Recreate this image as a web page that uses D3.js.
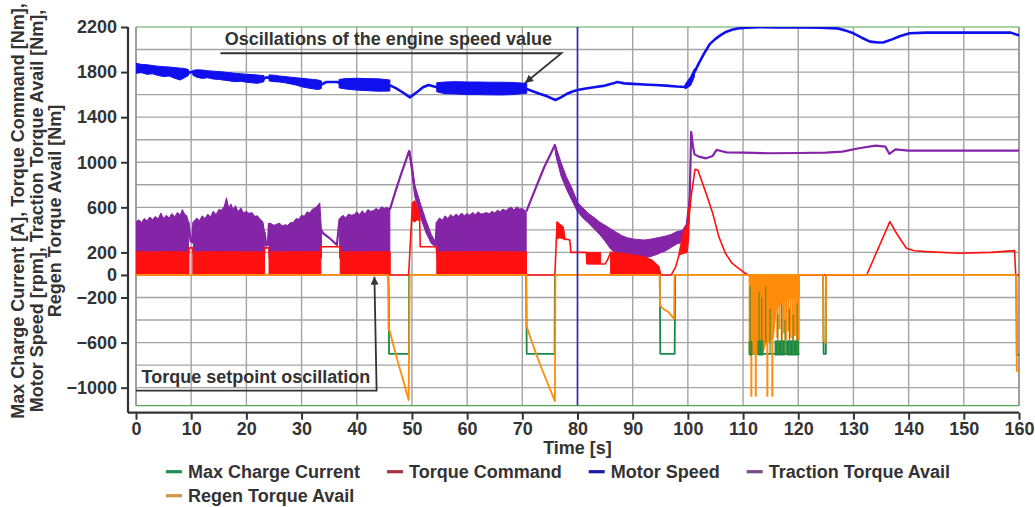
<!DOCTYPE html>
<html><head><meta charset="utf-8">
<script src="https://cdn.jsdelivr.net/npm/d3@7"></script>
<style>
html,body{margin:0;padding:0;background:#fff;}
svg{display:block;}
text{font-family:"Liberation Sans",Arial,Helvetica,sans-serif;font-weight:bold;fill:#333;}
</style></head><body>
<svg id="chart" width="1035" height="507"></svg>
<script>
// ---------------- DATA ----------------
const xTickValues = [0,10,20,30,40,50,60,70,80,90,100,110,120,130,140,150,160];
const yTickValues = [2200,1800,1400,1000,600,200,0,-200,-600,-1000];
const yGridValues = [-1000,-800,-600,-400,-200,0,200,400,600,800,1000,1200,1400,1600,1800,2000];
const xTitle = "Time [s]";
const yTitleLines = ["Max Charge Current [A], Torque Command [Nm],","Motor Speed [rpm], Traction Torque Avail [Nm],","Regen Torque Avail [Nm]"];
const seriesNames = ["Max Charge Current","Torque Command","Motor Speed","Traction Torque Avail","Regen Torque Avail"];
const cursorTimes = [80];

// Motor Speed [rpm]
const speedLine = [[0,1830],[1,1828],[2,1822],[3,1815],[4,1810],[5,1803],[6,1800],[7,1792],[8,1785],[9,1790],[9.6,1795],[10.2,1800],[11,1790],[12,1781],[13,1778],[14,1773],[15,1770],[16,1763],[17,1758],[18,1752],[19,1750],[20,1745],[21,1741],[22,1737],[23.2,1742],[23.6,1753],[24.1,1750],[25,1745],[26,1738],[27,1732],[28,1725],[29,1716],[30,1707],[31,1700],[32,1693],[33,1688],[33.6,1690],[34.5,1712],[36.5,1712],[37.2,1695],[40,1692],[43,1686],[46,1682],[47,1660],[48,1630],[49,1598],[49.6,1576],[50.3,1600],[51,1625],[52,1665],[53,1685],[54.5,1665],[56,1660],[58,1660],[60,1656],[62,1656],[64,1654],[66,1653],[68,1654],[70.8,1650],[72,1628],[73,1610],[74.5,1585],[76,1552],[77,1575],[78,1605],[79,1625],[80,1641],[81.5,1655],[83,1665],[85,1680],[86.5,1700],[87.2,1712],[88.5,1700],[90,1695],[92,1690],[94,1685],[96,1680],[98,1672],[99.5,1668],[100.5,1720],[101.2,1800],[102,1880],[103,1970],[104,2050],[105,2095],[106,2130],[107,2158],[108,2175],[109,2186],[110.6,2194],[113,2198],[116,2196],[120,2196],[124,2194],[127,2188],[128.5,2170],[130,2144],[131.5,2105],[133,2070],[134.5,2062],[135.5,2064],[137,2090],[138.5,2120],[140.2,2144],[143.2,2150],[150,2150],[158.5,2150],[159.8,2129],[160,2125]];
const speedBandA = [[0,1790,1878],[1,1795,1868],[2,1780,1865],[3,1785,1858],[4,1770,1852],[5,1760,1848],[6,1765,1845],[7,1745,1840],[8,1730,1835],[8.8,1750,1832],[9.5,1770,1822]];
const speedBandB = [[10.3,1772,1815],[11,1755,1820],[12,1744,1818],[13,1750,1812],[14,1738,1808],[15,1735,1805],[16,1728,1800],[17,1722,1795],[18,1715,1789],[19,1718,1785],[20,1710,1780],[21,1705,1778],[22,1700,1774],[23.2,1715,1768]];
const speedBandC = [[24.1,1722,1775],[25,1715,1772],[26,1712,1765],[27,1705,1760],[28,1695,1755],[29,1685,1750],[30,1670,1745],[31,1660,1740],[32,1652,1735],[33,1645,1730],[33.6,1655,1720]];
const speedBandD = [[36.8,1660,1735],[38,1650,1742],[40,1640,1745],[42,1635,1742],[44,1630,1740],[46,1632,1730]];
const speedBandE = [[54.5,1625,1705],[56,1608,1712],[58,1605,1715],[60,1600,1712],[62,1600,1712],[64,1598,1710],[66,1597,1710],[68,1600,1708],[70.8,1612,1700]];
const speedBandF = [[99.5,1650,1690],[100.5,1680,1760],[101.2,1760,1830]];

// Traction Torque Avail [Nm]
const purpleFloor = 150;
const purpleTopA = [[0,470],[0.5,490],[1,465],[1.5,500],[2,480],[2.5,515],[3,490],[3.5,520],[4,495],[4.5,550],[5,500],[5.5,530],[6,505],[6.5,545],[7,515],[7.5,555],[8,530],[8.4,580],[8.8,540],[9.2,525],[9.5,470]];
const purpleTopB = [[10.4,470],[11,505],[11.5,480],[12,525],[12.5,500],[13,540],[13.5,515],[14,565],[14.5,535],[15,580],[15.5,575],[16,610],[16.4,685],[16.8,590],[17.2,630],[17.6,580],[18,615],[18.5,560],[19,595],[19.5,550],[20,565],[20.5,545],[21,555],[21.5,520],[22,525],[22.5,495],[23,470],[23.3,380]];
const purpleTopC = [[24.1,460],[24.5,455],[25,440],[25.5,450],[26,460],[26.5,435],[27,445],[27.5,440],[28,465],[28.5,465],[29,500],[29.5,495],[30,530],[30.5,520],[31,560],[31.5,550],[32,585],[32.5,595],[33,620],[33.3,640],[33.6,400]];
const purpleTopD = [[36.9,500],[37.5,530],[38,505],[38.5,540],[39,530],[39.5,535],[40,560],[40.5,535],[41,570],[41.5,540],[42,580],[42.5,565],[43,570],[43.5,590],[44,575],[44.5,605],[45,590],[45.5,600],[46,580]];
const purpleTopE = [[54.5,470],[55,505],[55.5,485],[56,525],[56.5,500],[57,535],[57.5,515],[58,540],[58.5,520],[59,550],[59.5,525],[60,545],[60.5,530],[61,555],[61.5,535],[62,560],[62.5,540],[63,545],[63.5,555],[64,540],[64.5,565],[65,550],[65.5,575],[66,560],[66.5,585],[67,570],[67.5,590],[68,600],[68.5,575],[69,605],[69.5,585],[70,590],[70.5,570],[70.7,550]];
const purpleBandF = [[49.6,1050,1100],[50.5,700,800],[51.5,520,640],[52.5,380,490],[53.5,280,360],[54.3,250,290]];
const purpleBandG = [[76,1080,1150],[77,880,1000],[78,760,870],[79,660,770],[80,560,645],[81,505,595],[82,460,545],[83,410,510],[84,360,470],[85,300,440],[86,230,410],[87,190,380],[88,170,350],[89,150,330],[90,145,320],[91,150,315],[92,155,310],[93,160,315],[94,175,325],[95,195,335],[96,215,345],[97,245,360],[98,275,385],[99,290,395],[99.7,320,450],[100.3,480,700]];
const purpleLine = [
  [9.5,470],[9.9,300],[10.2,290],[10.4,470], null,
  [23.3,380],[23.6,260],[23.9,270],[24.1,460], null,
  [33.6,400],[33.9,370],[35,330],[36.4,266],[36.9,500], null,
  [46,580],[47,740],[48,890],[49,1030],[49.5,1100],[50,960],[50.5,760],[51.5,580],[52.5,440],[53.5,320],[54.3,270],[54.5,470], null,
  [70.7,560],[72,720],[73,840],[74,960],[75,1060],[75.9,1153],[76.5,1000],[77.1,930],[78,820],[79,715],[80,600], null,
  [100.3,620],[100.6,1270],[100.9,1150],[101.2,1070],[102,1050],[103.3,1035],[104.5,1056],[105.2,1110],[106,1100],[107,1088],[110,1085],[115,1080],[120,1082],[125,1085],[128,1094],[131,1124],[134,1147],[135.8,1138],[136.5,1075],[137,1092],[137.6,1115],[140,1103],[160,1103]
];

// Torque Command [Nm]
const redLine = [[0,200],[9.6,200],[9.6,240],[10.3,240],[10.3,200],[23.3,200],[23.3,240],[24.1,240],[24.1,200],[33.5,200],[33.5,250],[37,250],[37,200],[46,200],[46,0],[49.4,0],[50.1,640],[50.6,600],[51.0,560],[51.4,500],[51.5,250],[54.4,250],[54.5,200],[70.7,200],[70.7,0],[75.9,0],[76.3,470],[76.8,440],[77.4,420],[77.7,320],[78.6,310],[78.8,200],[81.6,200],[81.7,100],[85,97],[85.5,140],[86,200],[88,190],[90,175],[92,160],[93.5,130],[94.7,74],[95.1,0],[97,0],[97.8,74],[98.4,177],[99.2,300],[99.9,380],[100.3,550],[100.6,700],[101.3,937],[101.8,931],[103.3,724],[104.5,547],[105.6,340],[106.8,192],[108,104],[109.2,59],[110.4,15],[111,0],[132.4,0],[136.6,473],[137.8,370],[139.6,237],[141,215],[143.2,207],[149.2,192],[155,200],[159.2,216],[159.4,0],[160,0]];
const redBandA = [[0,0,205],[3,0,200],[6,0,208],[9.6,0,200]];
const redBandB = [[10.3,0,200],[16,0,206],[23.3,0,200]];
const redBandC = [[24.1,0,200],[29,0,204],[33.5,0,205]];
const redBandD = [[37,0,200],[42,0,204],[46,0,205]];
const redBandE = [[54.5,0,200],[62,0,207],[70.7,0,200]];
const redBandF = [[50.1,480,640],[50.5,470,660],[51.0,490,600],[51.4,480,540]];
const redBandG = [[76.3,320,470],[76.8,330,450],[77.4,320,430],[77.7,310,330]];
const redBandH = [[81.7,100,200],[84.2,100,200]];
const redBandI = [[86,0,200],[88,0,190],[90,0,175],[92,0,160],[93.5,0,130],[94.7,0,74],[95.1,0,0]];
const redBandJ = [[98.4,177,200],[99.2,190,380],[99.9,200,450],[100.2,350,600]];

// Max Charge Current [A]
const greenLine = [
  [45.7,0],[45.8,-150],[45.85,-700],[49.45,-700],[49.5,0], null,
  [70.7,0],[70.75,-330],[70.8,-700],[75.85,-700],[75.9,0], null,
  [94.9,0],[94.95,-280],[95.0,-700],[97.6,-700],[97.65,-400],[97.7,0], null,
  [111.1,-700],[120.2,-700], null,
  [124.5,0],[124.55,-300],[124.6,-700],[125,-700],[125.05,0], null,
  [159.5,0],[159.55,-250],[159.6,-710],[160,-710]
];
const greenBarA = [[111.1,-710,-590],[111.6,-710,-590]];
const greenBarB = [[112.7,-710,-585],[113.6,-710,-585]];
const greenBarC = [[115.8,-710,-585],[117.6,-710,-585]];
const greenBarD = [[117.9,-710,-585],[120.1,-710,-585]];
const greenSpikes = [[111.3,-100,-700],[112.9,-150,-700],[113.4,-200,-700],[114.1,-100,-600],[114.9,-300,-700],[116.3,-350,-700],[117.0,-250,-700],[117.6,-400,-700],[118.4,-300,-700],[119.1,-350,-700],[119.8,-250,-700]];

// Regen Torque Avail [Nm]
const orangeLine = [[0,0],[45.7,0],[45.75,-480],[46,-500],[46.5,-600],[47.5,-780],[48.5,-950],[49.4,-1110],[49.6,0],[70.7,0],[70.75,-450],[71.5,-560],[72.5,-700],[73.5,-830],[74.5,-950],[75.9,-1120],[76.0,0],[94.9,0],[94.95,-270],[95.5,-300],[96.5,-330],[97.5,-390],[97.6,0],[124.5,0],[124.55,-580],[125,-600],[125.05,0],[159.5,0],[159.6,-850],[160,-860]];
const orangeBand = [[111.1,-700,0],[113.6,-700,0],[114.0,-620,0],[115.5,-560,0],[116.0,-300,0],[117,-250,0],[118,-220,0],[119,-200,0],[120.2,-180,0]];
const orangeSpikes = [[111.5,0,-1080],[112.3,0,-1080],[114.4,0,-1080],[115.3,0,-1080],[116.2,0,-560],[116.6,0,-480],[117.0,0,-600],[117.4,0,-520],[117.8,0,-580],[118.2,0,-500],[118.6,0,-560],[119.0,0,-600],[119.4,0,-540],[119.8,0,-600],[120.1,0,-580]];

// Annotations (data coordinates)
const speedNoteText = "Oscillations of the engine speed value";
const speedNoteAnchor = [16.1, 2040];
const speedNoteLine = [[15.3,1967],[77.1,1967],[70.5,1703]];
const torqueNoteText = "Torque setpoint oscillation";
const torqueNoteAnchor = [1.0, -955];
const torqueNoteLine = [[0,-1026],[43.6,-1026],[43.2,-15]];

// ---------------- DRAW ----------------
const C = {green:"#178a45", red:"#ff1010", blue:"#1010ee", purple:"#8424a6", orange:"#ff8c0a", cursor:"#2a2ad0"};
const legendColors = ["#1f8f50","#a8323f","#1a1aa8","#7b4a8c","#d49448"];

const svg = d3.select("#chart");
const x = d3.scaleLinear().domain([0,160]).range([136,1019]);
const y = d3.scaleLinear().domain([-1160,2200]).range([405.7,27]);
const [x0,x1] = x.range(); const yTop = y.range()[1], yBot = y.range()[0];
const axisY = 412.7, axisX = 128;

svg.append("defs").append("clipPath").attr("id","clip")
  .append("rect").attr("x",x0).attr("y",yTop).attr("width",x1-x0).attr("height",yBot-yTop);
const defs = svg.select("defs");
defs.append("marker").attr("id","arrow").attr("viewBox","0 0 10 10").attr("refX",10).attr("refY",5)
  .attr("markerWidth",11).attr("markerHeight",8).attr("markerUnits","userSpaceOnUse").attr("orient","auto")
  .append("path").attr("d","M0,0 L10,5 L0,10 z").attr("fill","#333");

// grid
const grid = svg.append("g");
grid.selectAll("line.v").data(xTickValues).join("line").attr("class","v")
  .attr("x1",d=>x(d)).attr("x2",d=>x(d)).attr("y1",yTop).attr("y2",yBot)
  .attr("stroke","#a3a3a3").attr("stroke-width",1.4);
grid.selectAll("line.h").data(yGridValues).join("line").attr("class","h")
  .attr("x1",x0).attr("x2",x1).attr("y1",d=>y(d)).attr("y2",d=>y(d))
  .attr("stroke","#a3a3a3").attr("stroke-width",1.4);
// frame
grid.append("line").attr("x1",x0).attr("x2",x1).attr("y1",yTop).attr("y2",yTop).attr("stroke","#52a852").attr("stroke-width",1.2);
grid.append("line").attr("x1",x0).attr("x2",x1).attr("y1",yBot).attr("y2",yBot).attr("stroke","#52a852").attr("stroke-width",1.2);
grid.append("line").attr("x1",x0).attr("x2",x0).attr("y1",yTop).attr("y2",yBot).attr("stroke","#8a8a8a").attr("stroke-width",1.2);
grid.append("line").attr("x1",x1).attr("x2",x1).attr("y1",yTop).attr("y2",yBot).attr("stroke","#8a8a8a").attr("stroke-width",1.2);

const plot = svg.append("g").attr("clip-path","url(#clip)");
const line = d3.line().defined(d=>d!==null).x(d=>x(d[0])).y(d=>y(d[1]));
const band = d3.area().x(d=>x(d[0])).y0(d=>y(d[1])).y1(d=>y(d[2]));
const topArea = d3.area().x(d=>x(d[0])).y0(()=>y(purpleFloor)).y1(d=>y(d[1]));

function drawBands(arrs, color){ arrs.forEach(a=>plot.append("path").attr("d",band(a)).attr("fill",color).attr("stroke",color).attr("stroke-width",1)); }
function drawLine(a, color, w){ plot.append("path").attr("d",line(a)).attr("fill","none").attr("stroke",color).attr("stroke-width",w).attr("stroke-linejoin","round"); }
function drawSpikes(a, color, w){ plot.append("g").selectAll("line").data(a).join("line")
  .attr("x1",d=>x(d[0])).attr("x2",d=>x(d[0])).attr("y1",d=>y(d[1])).attr("y2",d=>y(d[2]))
  .attr("stroke",color).attr("stroke-width",w); }

// Traction Torque Avail
[purpleTopA,purpleTopB,purpleTopC,purpleTopD,purpleTopE].forEach(a=>plot.append("path").attr("d",topArea(a)).attr("fill",C.purple).attr("stroke",C.purple).attr("stroke-width",1));
drawBands([purpleBandF,purpleBandG], C.purple);
drawLine(purpleLine, C.purple, 2.2);
// Torque Command
drawBands([redBandA,redBandB,redBandC,redBandD,redBandE,redBandF,redBandG,redBandH,redBandI,redBandJ], C.red);
drawLine(redLine, C.red, 1.6);
// Max Charge Current (outline)
drawLine(greenLine, C.green, 1.8);
// Regen Torque Avail
drawBands([orangeBand], C.orange);
drawSpikes(orangeSpikes, C.orange, 2);
drawLine(orangeLine, C.orange, 1.8);
// Max Charge Current dense part
drawBands([greenBarA,greenBarB,greenBarC,greenBarD], C.green);
drawSpikes(greenSpikes, "#5f8a2a", 1.2);
// Motor Speed
drawBands([speedBandA,speedBandB,speedBandC,speedBandD,speedBandE,speedBandF], C.blue);
drawLine(speedLine, C.blue, 2.6);
// cursor
plot.selectAll("line.cursor").data(cursorTimes).join("line").attr("class","cursor")
  .attr("x1",d=>x(d)).attr("x2",d=>x(d)).attr("y1",yTop).attr("y2",yBot)
  .attr("stroke",C.cursor).attr("stroke-width",1.6);

// annotations
const ann = svg.append("g");
ann.append("text").attr("x",x(speedNoteAnchor[0])).attr("y",y(speedNoteAnchor[1])).attr("font-size",18).text(speedNoteText);
ann.append("path").attr("d",line(speedNoteLine)).attr("fill","none").attr("stroke","#333").attr("stroke-width",1.8).attr("marker-end","url(#arrow)");
ann.append("text").attr("x",x(torqueNoteAnchor[0])).attr("y",y(torqueNoteAnchor[1])).attr("font-size",18).text(torqueNoteText);
ann.append("path").attr("d",line(torqueNoteLine)).attr("fill","none").attr("stroke","#333").attr("stroke-width",1.8).attr("marker-end","url(#arrow)");

// axes
const gy = svg.append("g").attr("transform",`translate(${axisX},0)`)
  .call(d3.axisLeft(y).tickValues(yTickValues).tickSize(7).tickPadding(4).tickFormat(d3.format("d")));
gy.select(".domain").remove();
gy.selectAll(".tick line").attr("stroke","#333").attr("stroke-width",2);
gy.selectAll(".tick text").attr("font-size",18).attr("font-family",null).attr("fill","#333");
gy.append("line").attr("x1",0).attr("x2",0).attr("y1",yTop).attr("y2",axisY).attr("stroke","#333").attr("stroke-width",2.2);

const gx = svg.append("g").attr("transform",`translate(0,${axisY})`)
  .call(d3.axisBottom(x).tickValues(xTickValues).tickSize(7).tickPadding(3));
gx.select(".domain").remove();
gx.selectAll(".tick line").attr("stroke","#333").attr("stroke-width",2);
gx.selectAll(".tick text").attr("font-size",18).attr("font-family",null).attr("fill","#333");
gx.append("line").attr("x1",axisX).attr("x2",x1).attr("y1",0).attr("y2",0).attr("stroke","#333").attr("stroke-width",2.2);
svg.selectAll("g.tick text").style("font-weight","bold");

svg.append("text").attr("x",x(80)).attr("y",454).attr("text-anchor","middle").attr("font-size",18).text(xTitle);

const yt = svg.append("text").attr("transform","translate(24,211) rotate(-90)").attr("text-anchor","middle").attr("font-size",18);
yTitleLines.forEach((s,i)=>yt.append("tspan").attr("x",0).attr("dy",i===0?0:18.5).text(s));

// legend
const lg = svg.append("g");
let lx = 166, ly = 477.7;
seriesNames.forEach((name,i)=>{
  const g = lg.append("g");
  g.append("line").attr("x1",0).attr("x2",16).attr("y1",-6).attr("y2",-6).attr("stroke",legendColors[i]).attr("stroke-width",3.2);
  const t = g.append("text").attr("x",22).attr("y",0).attr("font-size",18).text(name);
  const w = 22 + t.node().getComputedTextLength();
  if (lx + w > 990) { lx = 166; ly += 24; }
  g.attr("transform",`translate(${lx},${ly})`);
  lx += w + 27;
});
</script>
</body></html>
